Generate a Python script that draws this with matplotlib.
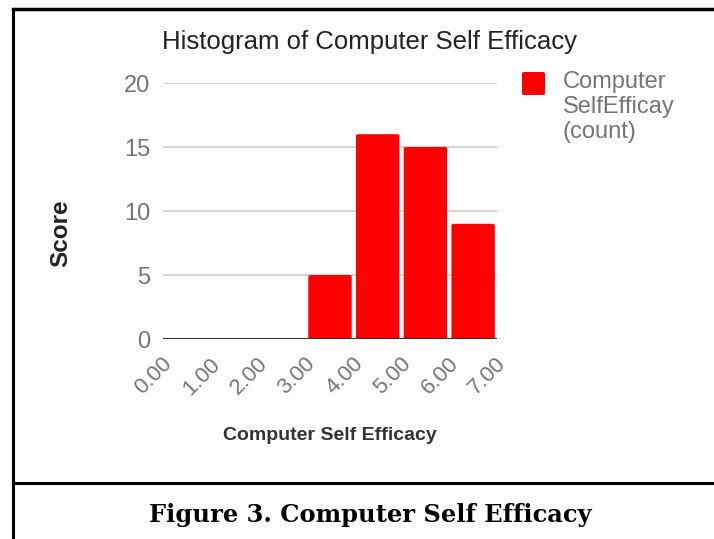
import numpy as np
import matplotlib

matplotlib.use("Agg")
import matplotlib.pyplot as plt
import matplotlib.transforms as mtransforms
from matplotlib.patches import FancyBboxPatch
from matplotlib.lines import Line2D

# histogram bins (left edges) and counts
bin_edges = [0, 1, 2, 3, 4, 5, 6, 7]
counts = [0, 0, 0, 5, 16, 15, 9]
y_ticks = [0, 5, 10, 15, 20]
x_tick_labels = ["0.00", "1.00", "2.00", "3.00", "4.00", "5.00", "6.00", "7.00"]

RED = "#ff0000"
GREY = "#757575"
DARK = "#222222"
SANS = "Liberation Sans"

fig = plt.figure(figsize=(7.14, 5.39), dpi=100)
ax = fig.add_axes([163 / 714, 1 - 339 / 539, 334 / 714, 256 / 539])

gap = 0.09
for left, right, c in zip(bin_edges[:-1], bin_edges[1:], counts):
    if c <= 0:
        continue
    w = right - left - gap
    bar = FancyBboxPatch((left + gap / 2, 0), w, c,
                         boxstyle="round,pad=0,rounding_size=0.06",
                         mutation_aspect=1.6,
                         fc=RED, ec="none", zorder=3)
    ax.add_patch(bar)

ax.set_xlim(bin_edges[0], bin_edges[-1])
ax.set_ylim(y_ticks[0], y_ticks[-1])
ax.set_yticks(y_ticks)
ax.set_xticks(bin_edges)
ax.set_xticklabels([])
for lab in ax.get_yticklabels():
    lab.set_fontsize(17)
    lab.set_color(GREY)
    lab.set_family(SANS)

# slanted bin-edge labels, placed by hand so they sit like the original
offset = mtransforms.ScaledTranslation(6 / 100, -22 / 100, fig.dpi_scale_trans)
for x, t in zip(bin_edges, x_tick_labels):
    ax.text(x, 0, t, transform=ax.transData + offset, rotation=45,
            ha="right", va="center", rotation_mode="anchor", fontsize=16,
            color=GREY, family=SANS, clip_on=False)

ax.tick_params(axis="y", length=0, pad=9)
ax.tick_params(axis="x", length=0)
ax.grid(axis="y", color="#cccccc", linewidth=1.2, zorder=0)
for s in ax.spines.values():
    s.set_visible(False)
ax.axhline(0, color="#333333", linewidth=1.5, zorder=4)

fig.text(369 / 714, 1 - 42 / 539, "Histogram of Computer Self Efficacy",
         ha="center", va="center", fontsize=18.5, color=DARK, family=SANS)
fig.text(61 / 714, 1 - 233 / 539, "Score", rotation=90, ha="center",
         va="center", fontsize=17.5, fontweight="bold", color=DARK, family=SANS)
fig.text(330 / 714, 1 - 435 / 539, "Computer Self Efficacy", ha="center",
         va="center", fontsize=14, fontweight="bold", color="#333333",
         family=SANS)

# legend
fig.patches.append(FancyBboxPatch((522 / 714, 1 - 95 / 539), 23 / 714, 23 / 539,
                                  boxstyle="round,pad=0,rounding_size=0.003",
                                  transform=fig.transFigure, fc=RED, ec="none"))
fig.text(563 / 714, 1 - 71 / 539, "Computer\nSelfEfficay\n(count)", ha="left",
         va="top", fontsize=17, color=GREY, family=SANS, linespacing=1.17)

# frame and caption
fig.lines.append(Line2D([12.5 / 714, 12.5 / 714], [0, 1 - 9 / 539],
                        transform=fig.transFigure, color="black", linewidth=2.2))
fig.lines.append(Line2D([12.5 / 714, 1], [1 - 9 / 539, 1 - 9 / 539],
                        transform=fig.transFigure, color="black", linewidth=2.5))
fig.lines.append(Line2D([12.5 / 714, 1], [1 - 483 / 539, 1 - 483 / 539],
                        transform=fig.transFigure, color="black", linewidth=2.2))
fig.text(370 / 714, 1 - 515 / 539, "Figure 3. Computer Self Efficacy",
         ha="center", va="center", fontsize=17.4, fontweight="bold",
         color="black", family="DejaVu Serif")

fig.savefig("out.png", dpi=100)
